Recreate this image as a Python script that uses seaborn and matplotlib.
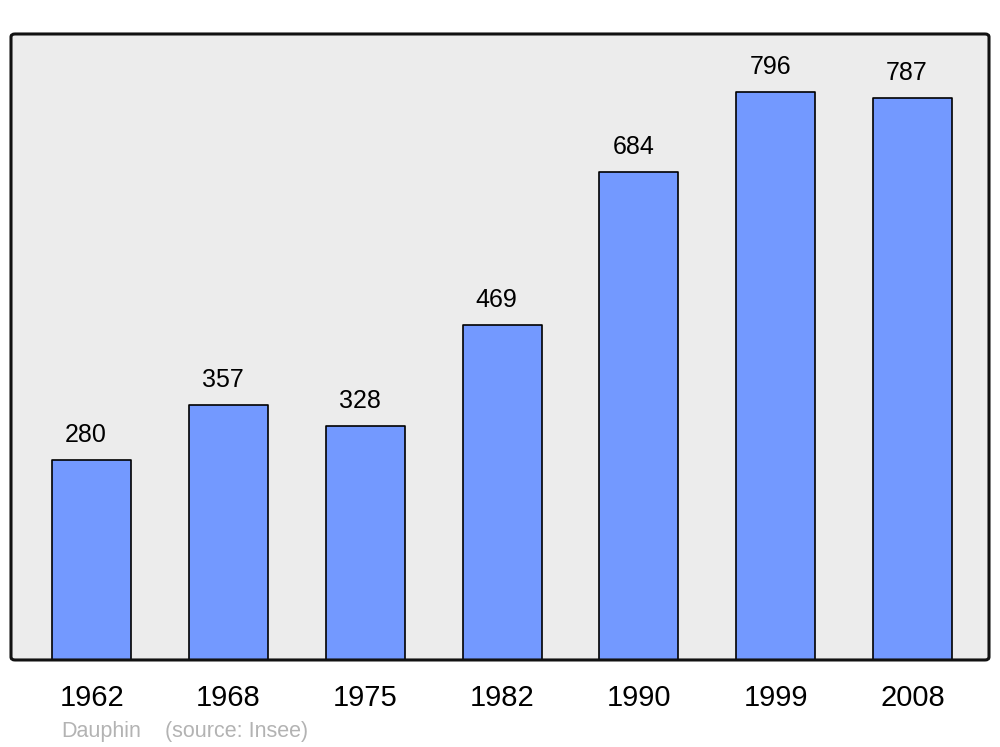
import pandas as pd
import seaborn as sns
import matplotlib.pyplot as plt
from matplotlib.patches import FancyBboxPatch

years = ['1962', '1968', '1975', '1982', '1990', '1999', '2008']
population = [280, 357, 328, 469, 684, 796, 787]

df = pd.DataFrame({'year': years, 'pop': population})

sns.set_theme(style="white")
plt.rcParams['font.family'] = ['Liberation Sans', 'DejaVu Sans']

fig = plt.figure(figsize=(10, 7.47), dpi=100)
ax = fig.add_axes([0.011, 0.1165, 0.978, 0.838])
ax.set_facecolor('#ececec')

sns.barplot(data=df, x='year', y='pop', color='#7399ff', saturation=1,
            width=0.578, edgecolor='black', linewidth=1.2, ax=ax)
for p in ax.patches:
    p.set_joinstyle('round')

for i, v in enumerate(population):
    ax.annotate(str(v), (i, v), xytext=(-4, 13), textcoords='offset points',
                ha='center', va='baseline', fontsize=18, color='black')

ax.set_xlim(-0.59, 6.56)
ax.set_ylim(0, 877)
ax.set(xlabel=None, ylabel=None)
ax.set_yticks([])
ax.tick_params(axis='x', length=0, pad=17, labelsize=21, labelcolor='black')
for s in ax.spines.values():
    s.set_visible(False)

frame = FancyBboxPatch((0.011, 0.1165), 0.978, 0.838,
                       boxstyle="round,pad=0,rounding_size=0.004",
                       transform=fig.transFigure, facecolor='none',
                       edgecolor='#111111', linewidth=2.2, zorder=10)
fig.patches.append(frame)

fig.text(0.061, 0.014, 'Dauphin', color='#b3b3b3', fontsize=15.5, ha='left', va='baseline')
fig.text(0.165, 0.014, '(source: Insee)', color='#b3b3b3', fontsize=15.5, ha='left', va='baseline')

fig.savefig('out.png', dpi=100)
